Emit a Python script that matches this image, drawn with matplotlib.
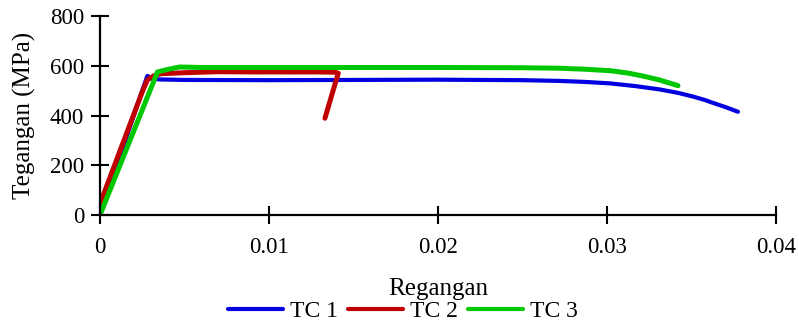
import matplotlib
matplotlib.use("Agg")
import matplotlib.pyplot as plt

# Data
tc1_strain = [0, 0.0005, 0.0010, 0.0015, 0.0020, 0.0025, 0.0028, 0.0031, 0.0035, 0.005,
              0.010, 0.015, 0.020, 0.025, 0.0272, 0.0287, 0.0302, 0.0317, 0.0331, 0.0342,
              0.0351, 0.0358, 0.0363, 0.0370, 0.03775]
tc1_stress = [0, 100, 200, 300, 400, 500, 559, 548, 545, 543,
              542, 543, 544, 542, 539, 535, 529, 518, 505, 491,
              476, 462, 450, 434, 415]

tc2_strain = [0, 0.0005, 0.0010, 0.0015, 0.0020, 0.0025, 0.0028, 0.0032, 0.0036, 0.005,
              0.007, 0.009, 0.011, 0.013, 0.0139, 0.0141, 0.0138, 0.01351, 0.01331]
tc2_stress = [45, 135, 225, 315, 405, 495, 543, 560, 568, 572,
              576, 575, 575, 575, 574, 570, 502, 435, 389]

tc3_strain = [0, 0.001, 0.002, 0.003, 0.0034, 0.0040, 0.0047, 0.006, 0.010, 0.015,
              0.020, 0.025, 0.0272, 0.0287, 0.0302, 0.0312, 0.0321, 0.0331, 0.0342]
tc3_stress = [0, 169, 338, 507, 575, 585, 595, 593, 593, 593,
              593, 592, 590, 586, 580, 571, 559, 543, 520]

labels = ["TC 1", "TC 2", "TC 3"]
colors = ["#0000E0", "#C00000", "#00C800"]

xticks = [0, 0.01, 0.02, 0.03, 0.04]
xticklabels = ["0", "0.01", "0.02", "0.03", "0.04"]
yticks = [0, 200, 400, 600, 800]

plt.rcParams['font.family'] = ['Liberation Serif', 'DejaVu Serif']

fig = plt.figure(figsize=(7.99, 3.27), dpi=100)
ax = fig.add_axes([100/799, 1 - 215/327, 676/799, 199/327])

series = [(tc1_strain, tc1_stress), (tc2_strain, tc2_stress), (tc3_strain, tc3_stress)]
lws = [3.0, 3.6, 3.6]
for (x, y), lab, c, lw in zip(series, labels, colors, lws):
    ax.plot(x, y, color=c, lw=lw, label=lab, solid_capstyle='round', solid_joinstyle='round')

ax.set_xlim(0, 0.04)
ax.set_ylim(0, 800)
ax.set_xticks(xticks)
ax.set_xticklabels(xticklabels)
ax.set_yticks(yticks)
for s in ['top', 'right']:
    ax.spines[s].set_visible(False)
for s in ['left', 'bottom']:
    ax.spines[s].set_linewidth(1.6)
ax.tick_params(axis='both', direction='inout', length=13, width=1.5, labelsize=16.5)
ax.tick_params(axis='y', pad=5)
ax.tick_params(axis='x', pad=9)

ax.set_ylabel("Tegangan (MPa)", fontsize=18)
ax.yaxis.set_label_coords(-0.095, 0.5)
ax.set_xlabel("Regangan", fontsize=18)
ax.xaxis.set_label_coords(0.5, -0.315)

leg = fig.legend(loc='center', bbox_to_anchor=(403/799, 1 - 311/327), ncol=3,
                 frameon=False, fontsize=17, handlelength=2.3, handletextpad=0.3,
                 columnspacing=0.45, borderpad=0, borderaxespad=0)
for h in leg.get_lines():
    h.set_linewidth(3.0)

fig.savefig("out.png", dpi=100)
